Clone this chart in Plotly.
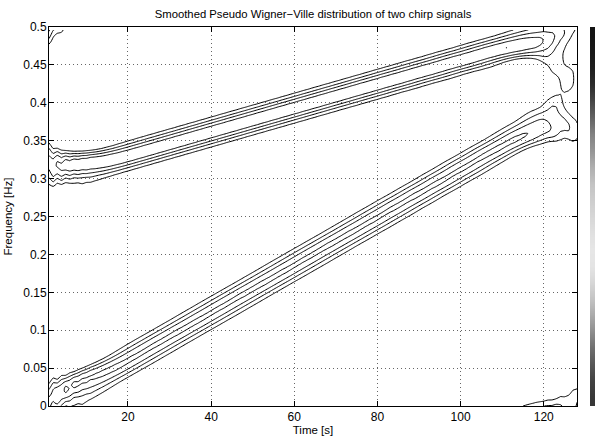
import numpy as np
import plotly.graph_objects as go

# ---- data -----------------------------------------------------------------
N_SAMPLES = 128                      # time axis runs 1..128
chirp_start_freq = [0.0, 0.3]        # normalised start frequency of each chirp
chirp_end_freq = [0.4, 0.5]          # normalised end frequency of each chirp
level_fractions = [0.24, 0.43, 0.62, 0.81, 0.9995]   # contour levels (fraction of max)

x_tick_vals = [20, 40, 60, 80, 100, 120]
x_tick_text = ["20", "40", "60", "80", "100", "120"]
y_tick_vals = [0, 0.05, 0.1, 0.15, 0.2, 0.25, 0.3, 0.35, 0.4, 0.45, 0.5]
y_tick_text = ["0", "0.05", "0.1", "0.15", "0.2", "0.25", "0.3", "0.35", "0.4", "0.45", "0.5"]

# grey values of the colour strip, top to bottom (0 = black, 255 = white)
colorbar_gray = [20, 24, 30, 45, 70, 100, 130, 150, 175, 195, 205, 215, 224, 230, 228, 215, 195, 170, 140, 110, 85, 65, 55]

TITLE = "Smoothed Pseudo Wigner\u2212Ville distribution of two chirp signals"
X_LABEL = "Time [s]"
Y_LABEL = "Frequency [Hz]"


# ---- Smoothed pseudo Wigner-Ville distribution ------------------------------
def fmlin(n, fi, ff):
    t0 = round(n / 2)
    y = np.arange(1, n + 1)
    phase = fi * (y - t0) + ((ff - fi) / (2 * (n - 1))) * ((y - 1) ** 2 - (t0 - 1) ** 2)
    s = np.exp(1j * 2 * np.pi * phase)
    return s / s[t0 - 1]


def tftb_hamming(n):
    k = np.arange(1, n + 1)
    return 0.54 - 0.46 * np.cos(2 * np.pi * k / (n + 1))


def tfrspwv(x):
    xrow = len(x)
    n = xrow
    glen = n // 10
    glen += 1 - glen % 2
    hlen = n // 4
    hlen += 1 - hlen % 2
    g = tftb_hamming(glen)
    h = tftb_hamming(hlen)
    Lg = (glen - 1) // 2
    Lh = (hlen - 1) // 2
    h = h / h[Lh]
    tfr = np.zeros((n, n), complex)
    for icol in range(n):
        ti = icol + 1
        taumax = min(ti + Lg - 1, xrow - ti + Lg, round(n / 2) - 1, Lh)
        pts = np.arange(-min(Lg, xrow - ti), min(Lg, ti - 1) + 1)
        g2 = g[Lg + pts]
        g2 = g2 / g2.sum()
        tfr[0, icol] = np.sum(g2 * np.abs(x[ti - pts - 1]) ** 2)
        for tau in range(1, taumax + 1):
            pts = np.arange(-min(Lg, xrow - ti - tau), min(Lg, ti - tau - 1) + 1)
            g2 = g[Lg + pts]
            g2 = g2 / g2.sum()
            R = np.sum(g2 * x[ti + tau - pts - 1] * np.conj(x[ti - tau - pts - 1]))
            tfr[tau, icol] = h[Lh + tau] * R
            R = np.sum(g2 * x[ti - tau - pts - 1] * np.conj(x[ti + tau - pts - 1]))
            tfr[n - tau, icol] = h[Lh - tau] * R
    return np.real(np.fft.fft(tfr, axis=0))


sig = sum(fmlin(N_SAMPLES, a, b) for a, b in zip(chirp_start_freq, chirp_end_freq))
tfr = tfrspwv(sig)
t_axis = np.arange(1, N_SAMPLES + 1)
f_axis = 0.5 * np.arange(N_SAMPLES) / N_SAMPLES
zmax = tfr.max()

# ---- figure ----------------------------------------------------------------
W, H = 595, 439
ML, MR, MT, MB = 49, 0, 27, 33
plot_w = W - ML - MR
main_right = 577
fig = go.Figure()

for frac in level_fractions:
    lv = frac * zmax
    fig.add_trace(go.Contour(
        x=t_axis, y=f_axis, z=tfr,
        contours=dict(start=lv, end=lv, size=1, coloring="none"),
        line=dict(color="black", width=1, smoothing=0.6),
        showscale=False, hoverinfo="skip",
        xaxis="x", yaxis="y",
    ))

cb = np.array(colorbar_gray[::-1], dtype=float).reshape(-1, 1)
fig.add_trace(go.Heatmap(
    z=cb, x=[0], y=np.arange(len(colorbar_gray)),
    colorscale=[[0, "black"], [1, "white"]], zmin=0, zmax=255, zsmooth="best",
    showscale=False, hoverinfo="skip", xaxis="x2", yaxis="y2",
))

FONT = "Liberation Sans, Arial, sans-serif"
tick_font = dict(family=FONT, size=12, color="black")
label_font = dict(family=FONT, size=11.5, color="black")
grid = dict(showgrid=True, gridcolor="#666666", griddash="1px,3px", gridwidth=1)
fig.update_layout(
    width=W, height=H,
    margin=dict(l=ML, r=MR, t=MT, b=MB),
    paper_bgcolor="white", plot_bgcolor="white",
    showlegend=False,
    font=tick_font,
    title=dict(text=TITLE, x=((ML + main_right) / 2) / W, xanchor="center",
               y=1 - 14 / H, yanchor="middle", xref="container", yref="container",
               font=dict(family=FONT, size=11.3, color="black")),
    xaxis=dict(domain=[0, (main_right - ML) / plot_w], range=[1, 128],
               tickvals=x_tick_vals, ticktext=x_tick_text,
               ticks="inside", ticklen=5, tickcolor="black", mirror="ticks",
               showline=True, linecolor="black", linewidth=1,
               zeroline=False, tickfont=tick_font, **grid,
               title=dict(text=X_LABEL, font=label_font, standoff=2)),
    yaxis=dict(domain=[0, 1], range=[0, 0.5],
               tickvals=y_tick_vals, ticktext=y_tick_text,
               ticks="inside", ticklen=5, tickcolor="black", mirror="ticks",
               showline=True, linecolor="black", linewidth=1,
               zeroline=False, tickfont=tick_font, ticklabelstandoff=-1, **grid,
               title=dict(text=Y_LABEL, font=label_font, standoff=8)),
    xaxis2=dict(domain=[(590 - ML) / plot_w, 1], range=[-0.5, 0.5], visible=False,
                fixedrange=True),
    yaxis2=dict(domain=[0, 1], range=[-0.5, len(colorbar_gray) - 0.5], visible=False,
                anchor="x2", fixedrange=True),
)

fig.write_html("out.html")
